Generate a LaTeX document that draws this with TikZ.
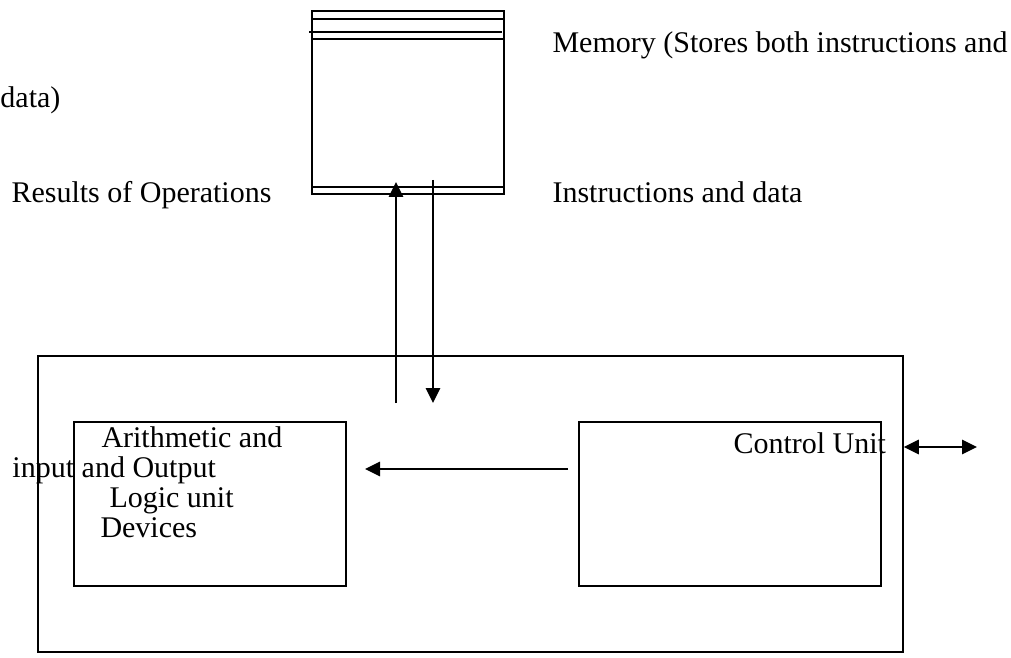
\documentclass[tikz,border=0pt]{standalone}
\usepackage{fontspec}
\setmainfont{Liberation Serif}
\usetikzlibrary{arrows.meta}
\begin{document}
\begin{tikzpicture}[x=0.4pt,y=-0.4pt,
  box/.style={draw,line width=0.7pt,inner sep=0pt,anchor=north west},
  rule/.style={line width=0.7pt},
  lbl/.style={anchor=base west,inner sep=0pt,font=\fontsize{12pt}{13.8pt}\selectfont},
  conn/.style={line width=0.6pt,-{Triangle[width=5.8pt,length=6pt]}},
  dconn/.style={line width=0.6pt,{Triangle[width=5.8pt,length=6pt]}-{Triangle[width=5.8pt,length=6pt]}}]
\useasboundingbox (0,0) rectangle (1011,658);
% memory
\node[box,minimum width=76.8pt,minimum height=73.2pt] (mem) at (311,10) {};
\draw[rule] (311,19) -- (503,19);
\draw[rule] (309,32) -- (502,32);
\draw[rule] (311,39) -- (503,39);
\draw[rule] (311,187) -- (503,187);
% outer CPU box
\node[box,minimum width=346pt,minimum height=118.4pt] (cpu) at (37,355) {};
\node[box,minimum width=108.8pt,minimum height=65.6pt] (alu) at (73,421) {};
\node[box,minimum width=120.8pt,minimum height=65.6pt] (cu) at (578,421) {};
% connector ends
\coordinate (upS) at (396,403);
\coordinate (upE) at (396,182);
\coordinate (dnS) at (433,180);
\coordinate (dnE) at (433,403);
\coordinate (lfS) at (568,469);
\coordinate (lfE) at (365,469);
\coordinate (ioE) at (977,447);
\draw[conn] (upS) -- (upE);
\draw[conn] (dnS) -- (dnE);
\draw[conn] (lfS) -- (lfE);
\draw[dconn] (cpu.east |- ioE) -- (ioE);
% texts
\node[lbl] (t1) at (552,53) {Memory (Stores both instructions and};
\node[lbl] (t2) at (0,108) {data)};
\node[lbl] (t3) at (11,203) {Results of Operations};
\node[lbl] (t4) at (552,203) {Instructions and data};
\node[lbl] (t5) at (101,447) {Arithmetic and};
\node[lbl] (t6) at (12,477) {input and Output};
\node[lbl] (t7) at (109,507) {Logic unit};
\node[lbl] (t8) at (100,537) {Devices};
\node[lbl] (t9) at (733,453) {Control Unit};
\end{tikzpicture}
\end{document}
